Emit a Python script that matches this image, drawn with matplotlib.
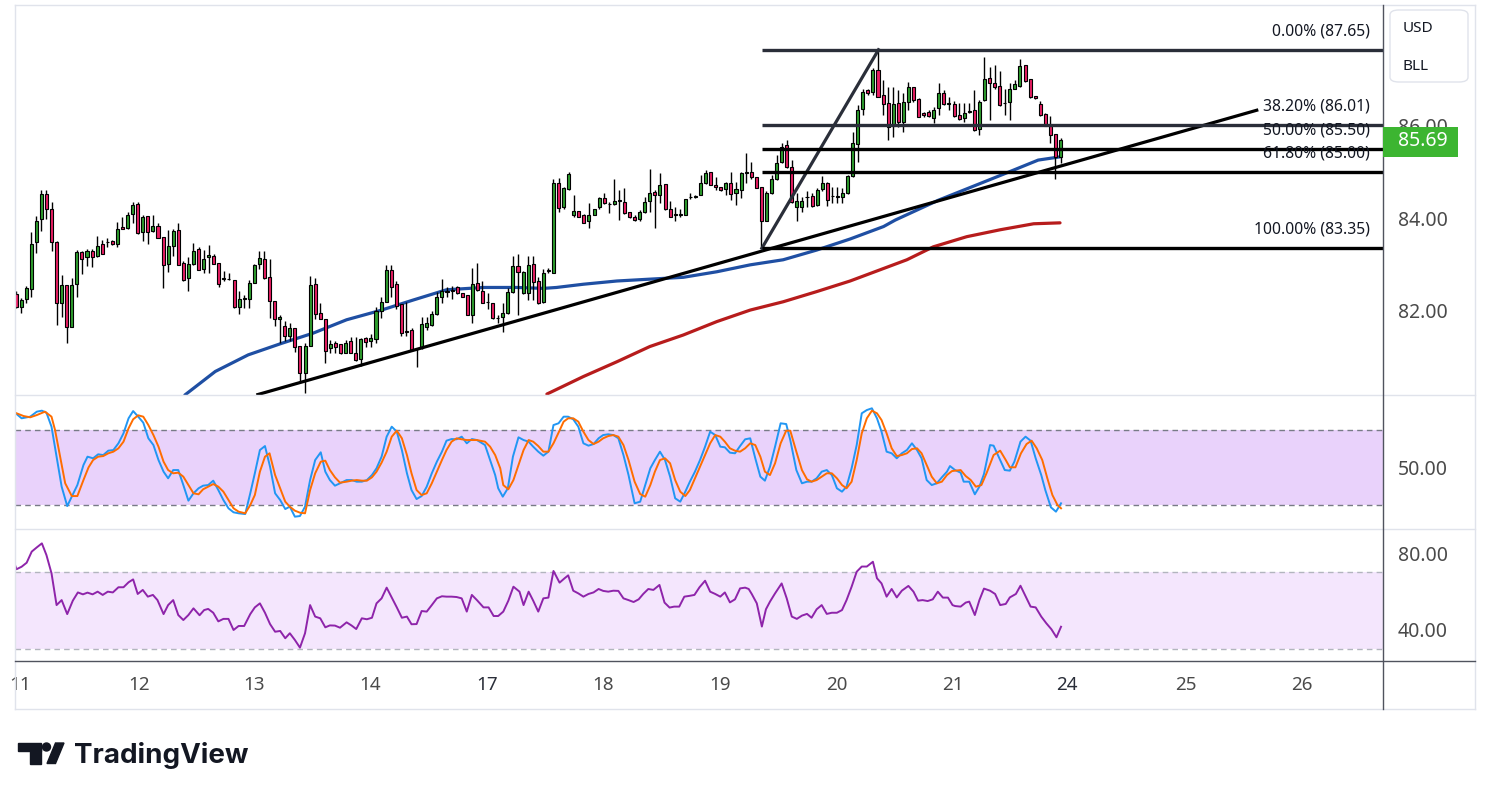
import numpy as np
import matplotlib
matplotlib.use("Agg")
import matplotlib.pyplot as plt
import matplotlib.patches as mpatches
import matplotlib.transforms as mtransforms
from matplotlib.lines import Line2D

plt.rcParams['font.family'] = ['Noto Sans', 'DejaVu Sans']

# ---- hourly candles (bar index 0..206) ----
opens = [
    82.36, 82.07, 82.25, 82.46, 83.48, 83.98, 84.52, 84.19, 83.49, 82.16,
    82.55, 81.65, 82.57, 83.27, 83.15, 83.29, 83.18, 83.44, 83.49, 83.51,
    83.44, 83.81, 83.78, 84.09, 84.30, 83.70, 84.04, 83.73, 83.83, 83.59,
    83.00, 83.39, 83.74, 83.02, 82.70, 83.00, 83.33, 82.91, 83.15, 83.18,
    83.02, 82.69, 82.69, 82.66, 82.08, 82.26, 82.25, 82.60, 83.00, 83.12,
    82.73, 82.21, 81.81, 81.67, 81.44, 81.62, 81.23, 80.65, 81.23, 82.58,
    81.94, 81.81, 81.18, 81.29, 81.27, 81.07, 81.34, 81.07, 80.94, 81.41,
    81.35, 81.39, 81.99, 82.18, 82.88, 82.58, 82.14, 81.56, 81.58, 81.16,
    81.18, 81.65, 81.69, 81.92, 82.30, 82.40, 82.42, 82.52, 82.37, 82.34,
    81.90, 82.59, 82.42, 82.18, 82.17, 81.83, 81.87, 81.94, 82.40, 82.97,
    82.37, 82.37, 83.00, 82.64, 82.18, 82.86, 82.81, 84.77, 84.25, 84.63,
    84.08, 84.16, 84.08, 83.94, 84.08, 84.24, 84.43, 84.30, 84.30, 84.38,
    84.35, 84.14, 84.02, 83.98, 84.13, 84.37, 84.56, 84.50, 84.74, 84.21,
    84.07, 84.07, 84.08, 84.45, 84.46, 84.50, 84.76, 85.01, 84.73, 84.67,
    84.63, 84.77, 84.54, 84.61, 84.99, 85.01, 84.90, 84.67, 83.95, 84.54,
    84.86, 85.22, 85.59, 85.12, 84.25, 84.25, 84.45, 84.48, 84.29, 84.63,
    84.76, 84.48, 84.47, 84.45, 84.54, 84.92, 85.60, 86.36, 86.78, 86.73,
    87.21, 86.67, 86.49, 86.00, 86.50, 86.09, 86.51, 86.84, 86.58, 86.27,
    86.31, 86.18, 86.38, 86.71, 86.48, 86.48, 86.24, 86.18, 86.31, 86.34,
    85.93, 86.56, 87.03, 86.94, 86.86, 86.49, 86.51, 86.81, 86.87, 87.32,
    87.01, 86.65, 86.47, 86.25, 86.00, 85.82, 85.32,
]
highs = [
    82.43, 82.27, 82.53, 83.71, 84.05, 84.61, 84.61, 84.35, 83.51, 82.76,
    82.55, 82.70, 83.31, 83.30, 83.34, 83.34, 83.62, 83.52, 83.58, 83.53,
    83.91, 84.02, 84.13, 84.35, 84.35, 84.08, 84.05, 84.08, 83.90, 83.59,
    83.74, 83.76, 83.90, 83.07, 83.15, 83.46, 83.38, 83.31, 83.41, 83.23,
    83.03, 82.86, 82.81, 82.66, 82.42, 82.33, 82.66, 83.01, 83.29, 83.29,
    83.11, 82.21, 81.90, 81.77, 81.73, 81.62, 81.23, 81.29, 82.75, 82.70,
    82.16, 81.82, 81.36, 81.33, 81.28, 81.36, 81.43, 81.43, 81.41, 81.43,
    81.49, 82.08, 82.30, 82.99, 82.99, 82.64, 82.14, 82.19, 81.62, 81.19,
    81.87, 81.87, 81.99, 82.41, 82.68, 82.52, 82.54, 82.54, 82.38, 82.34,
    82.92, 83.02, 82.63, 82.37, 82.17, 81.90, 82.16, 82.48, 83.18, 83.22,
    82.86, 83.18, 83.18, 82.73, 82.89, 82.92, 84.86, 84.88, 84.68, 85.01,
    84.50, 84.16, 84.09, 84.32, 84.21, 84.47, 84.54, 84.36, 84.86, 84.61,
    84.65, 84.14, 84.07, 84.18, 84.47, 85.06, 84.61, 84.99, 84.74, 84.37,
    84.25, 84.21, 84.41, 84.54, 84.50, 84.94, 85.04, 85.01, 84.90, 84.68,
    84.79, 85.01, 84.79, 85.01, 85.41, 85.22, 84.90, 84.68, 84.58, 84.94,
    85.37, 85.62, 85.70, 85.26, 84.54, 84.47, 84.58, 84.54, 84.65, 84.92,
    84.79, 84.68, 84.68, 84.65, 84.94, 85.86, 86.45, 86.81, 86.81, 87.25,
    87.65, 86.99, 86.85, 86.85, 86.78, 86.71, 86.96, 86.85, 86.60, 86.31,
    86.34, 86.42, 86.94, 86.78, 86.63, 86.53, 86.49, 86.49, 86.49, 86.78,
    86.56, 87.50, 87.28, 87.32, 87.18, 86.81, 86.92, 86.99, 87.44, 87.32,
    87.01, 86.65, 86.54, 86.27, 86.21, 85.82, 85.73,
]
lows = [
    82.06, 81.94, 82.17, 82.30, 83.24, 83.73, 83.98, 83.29, 81.68, 81.85,
    81.29, 81.64, 82.29, 82.80, 82.97, 82.94, 83.15, 83.23, 83.38, 83.42,
    83.38, 83.76, 83.77, 83.90, 83.66, 83.51, 83.44, 83.70, 83.57, 82.48,
    82.83, 83.18, 82.98, 82.64, 82.42, 82.98, 82.88, 82.81, 82.81, 83.00,
    82.50, 82.63, 82.66, 82.06, 81.92, 82.06, 82.05, 82.59, 82.89, 82.68,
    81.83, 81.67, 81.29, 81.33, 81.33, 81.10, 80.46, 80.21, 81.23, 81.82,
    81.81, 80.87, 81.07, 81.09, 81.06, 81.07, 81.07, 80.91, 80.80, 81.22,
    81.22, 81.29, 81.83, 82.18, 82.30, 82.03, 81.44, 81.44, 81.15, 80.78,
    81.17, 81.58, 81.67, 81.90, 82.17, 82.30, 82.25, 82.36, 82.29, 81.90,
    81.74, 82.43, 82.16, 82.03, 81.81, 81.72, 81.54, 81.93, 82.37, 81.90,
    82.36, 82.23, 82.23, 82.14, 82.17, 82.82, 82.81, 84.14, 84.20, 84.61,
    84.03, 84.02, 83.89, 83.78, 84.07, 84.19, 84.31, 84.11, 84.29, 83.96,
    84.09, 84.00, 83.93, 83.93, 84.11, 84.14, 83.78, 84.32, 84.18, 84.02,
    83.93, 84.02, 84.07, 84.41, 84.44, 84.50, 84.74, 84.72, 84.61, 84.58,
    84.50, 84.39, 84.29, 84.43, 84.76, 84.86, 84.65, 83.35, 83.93, 84.53,
    84.83, 85.20, 85.08, 84.32, 83.93, 84.14, 84.25, 84.25, 84.27, 84.58,
    84.27, 84.32, 84.34, 84.32, 84.53, 84.90, 85.22, 86.24, 86.67, 86.67,
    86.63, 86.24, 85.70, 85.77, 85.98, 85.87, 86.34, 86.52, 86.19, 86.20,
    86.20, 86.06, 86.24, 86.45, 86.34, 86.20, 86.13, 86.09, 86.27, 85.90,
    85.80, 86.55, 86.13, 86.81, 86.43, 86.24, 86.13, 86.79, 86.85, 86.96,
    86.60, 86.58, 86.21, 86.00, 85.62, 84.84, 85.20,
]
closes = [
    82.08, 82.23, 82.48, 83.44, 83.93, 84.52, 84.21, 83.48, 82.16, 82.55,
    81.64, 82.55, 83.27, 83.12, 83.29, 83.15, 83.39, 83.23, 83.48, 83.44,
    83.76, 83.76, 84.08, 84.29, 83.69, 84.02, 83.71, 83.83, 83.57, 82.99,
    83.39, 83.72, 82.98, 82.66, 83.00, 83.29, 82.88, 83.11, 83.20, 83.00,
    82.57, 82.69, 82.68, 82.08, 82.25, 82.26, 82.60, 82.98, 83.13, 82.71,
    82.21, 81.81, 81.86, 81.44, 81.62, 81.20, 80.65, 81.23, 82.55, 81.92,
    81.81, 81.13, 81.28, 81.22, 81.09, 81.30, 81.07, 80.93, 81.38, 81.31,
    81.41, 81.99, 82.18, 82.88, 82.52, 82.10, 81.51, 81.53, 81.15, 81.16,
    81.70, 81.72, 81.92, 82.30, 82.42, 82.42, 82.44, 82.37, 82.30, 81.90,
    82.57, 82.44, 82.16, 82.18, 81.83, 81.83, 81.94, 82.40, 82.97, 82.83,
    82.84, 82.99, 82.61, 82.16, 82.81, 82.86, 84.76, 84.23, 84.65, 84.95,
    84.16, 84.03, 83.89, 84.08, 84.19, 84.43, 84.34, 84.30, 84.38, 84.38,
    84.11, 84.02, 83.96, 84.14, 84.35, 84.55, 84.50, 84.72, 84.19, 84.02,
    84.07, 84.07, 84.41, 84.45, 84.47, 84.76, 84.99, 84.73, 84.67, 84.61,
    84.77, 84.52, 84.63, 84.97, 84.99, 84.89, 84.66, 83.95, 84.54, 84.86,
    85.20, 85.55, 85.12, 84.36, 84.37, 84.37, 84.45, 84.27, 84.61, 84.76,
    84.39, 84.48, 84.47, 84.54, 84.92, 85.62, 86.34, 86.73, 86.71, 87.21,
    86.63, 86.47, 85.98, 86.48, 86.09, 86.51, 86.84, 86.56, 86.20, 86.24,
    86.21, 86.34, 86.71, 86.47, 86.48, 86.21, 86.16, 86.29, 86.31, 85.91,
    86.51, 87.01, 86.92, 86.84, 86.45, 86.49, 86.79, 86.90, 87.30, 86.97,
    86.62, 86.60, 86.24, 86.00, 85.80, 85.33, 85.69,
]
last_price = 85.69

# moving averages (bar, price)
ma_blue = [(33.3, 80.17), (39.3, 80.68), (45.8, 81.04), (52.4, 81.29), (58.6, 81.51),
           (65.2, 81.80), (71.8, 82.00), (78.4, 82.23), (84.9, 82.45), (92.2, 82.50),
           (98.8, 82.50), (104.0, 82.48), (106.6, 82.50), (111.9, 82.57), (118.5, 82.64),
           (125.0, 82.68), (131.6, 82.72), (138.2, 82.84), (144.8, 82.99), (151.3, 83.10),
           (157.9, 83.31), (164.5, 83.55), (171.1, 83.82), (173.4, 83.96), (181.9, 84.39),
           (188.5, 84.68), (195.1, 84.97), (201.6, 85.26), (205.9, 85.33)]
ma_red = [(104.7, 80.19), (111.9, 80.57), (118.5, 80.89), (125.0, 81.22), (131.6, 81.47),
          (138.2, 81.76), (144.8, 82.01), (151.3, 82.19), (157.9, 82.41), (164.5, 82.64),
          (175.7, 83.10), (180.9, 83.38), (187.5, 83.60), (194.1, 83.75), (200.7, 83.88),
          (205.9, 83.90)]

# drawings
trend_line = [(47.7, 80.18), (244.7, 86.34)]
fib_swing = [(147.1, 83.35), (170.1, 87.65)]
fib_levels = [87.65, 86.01, 85.50, 85.00, 83.35]
fib_labels = ["0.00% (87.65)", "38.20% (86.01)", "50.00% (85.50)",
              "61.80% (85.00)", "100.00% (83.35)"]
fib_colors = ['#2a2e39', '#2a2e39', 'black', 'black', 'black']

# stochastic %K / %D (bar, value)
stoch_k = [(-0.2, 94.1), (1.1, 89.6), (2.8, 90.9), (4.1, 94.9), (5.1, 95.7), (6.0, 94.1), (7.0, 82.9),
           (8.0, 58.9), (9.0, 34.9), (10.1, 19.4), (11.0, 26.9), (12.1, 36.2), (13.3, 52.2), (14.1, 58.9),
           (15.2, 57.6), (16.2, 60.8), (17.2, 60.2), (18.2, 63.7), (19.2, 64.2), (20.2, 69.6), (21.2, 77.6),
           (22.2, 89.6), (23.1, 95.4), (24.1, 90.9), (25.1, 86.1), (26.1, 73.6), (27.1, 68.2), (28.1, 56.2),
           (29.1, 46.9), (30.0, 41.6), (31.0, 48.2), (32.0, 48.2), (33.0, 36.2), (34.0, 23.7), (35.0, 29.6),
           (36.0, 33.6), (36.9, 35.7), (37.9, 36.2), (38.9, 39.7), (39.9, 32.2), (40.9, 24.2), (41.9, 17.6),
           (42.9, 14.4), (43.9, 13.6), (45.2, 13.0), (46.2, 29.6), (47.1, 45.6), (48.1, 64.2), (49.1, 67.4),
           (50.1, 50.9), (51.1, 29.6), (52.1, 24.2), (53.1, 17.0), (54.0, 18.9), (55.0, 10.9), (56.0, 11.4),
           (57.0, 18.9), (58.0, 40.2), (59.0, 56.2), (60.1, 62.4), (61.0, 46.9), (61.9, 40.2), (62.9, 35.7),
           (63.9, 37.6), (65.2, 40.2), (66.2, 40.2), (67.2, 38.9), (68.2, 38.9), (69.2, 40.2), (70.2, 44.2),
           (71.1, 49.6), (72.1, 58.9), (73.1, 74.9), (74.1, 82.9), (75.1, 78.9), (76.1, 64.2), (77.1, 45.6),
           (78.0, 32.2), (79.0, 25.0), (80.0, 27.4), (81.0, 34.9), (82.0, 45.6), (83.0, 54.9), (84.0, 62.9),
           (84.9, 71.7), (85.9, 73.0), (86.9, 72.8), (87.9, 74.9), (88.9, 69.6), (89.9, 73.0), (90.9, 72.2),
           (92.5, 68.2), (93.5, 56.2), (94.5, 44.2), (95.1, 33.6), (96.0, 26.9), (97.0, 33.6), (98.0, 58.9),
           (99.1, 74.4), (100.1, 72.2), (101.1, 70.9), (102.0, 66.9), (103.0, 62.9), (104.0, 59.7),
           (105.0, 62.9), (106.0, 84.2), (107.0, 85.6), (108.0, 90.9), (108.9, 90.9), (109.9, 88.8),
           (110.9, 82.9), (111.9, 69.6), (112.9, 67.7), (113.9, 69.0), (114.9, 73.6), (115.8, 76.2),
           (116.8, 76.8), (117.8, 76.2), (118.8, 73.6), (119.8, 60.2), (120.8, 44.2), (122.0, 21.6),
           (123.1, 22.9), (124.1, 36.2), (125.1, 49.6), (126.0, 56.2), (127.0, 62.9), (128.0, 56.2),
           (129.0, 42.9), (130.0, 25.6), (131.0, 22.9), (132.0, 30.9), (132.9, 38.9), (133.9, 46.9),
           (134.9, 56.2), (135.9, 66.9), (136.9, 78.9), (137.9, 76.2), (138.9, 66.9), (139.8, 66.4),
           (140.8, 62.1), (141.8, 61.6), (142.8, 67.4), (143.8, 72.8), (144.8, 73.6), (145.8, 57.6),
           (146.8, 42.9), (147.7, 39.7), (148.7, 50.9), (149.7, 66.9), (150.8, 85.6), (151.9, 85.0),
           (152.7, 72.2), (153.9, 48.2), (155.0, 37.6), (156.0, 38.9), (156.9, 38.9), (157.9, 41.6),
           (158.9, 46.9), (159.9, 48.2), (160.9, 44.2), (161.9, 33.6), (162.9, 30.9), (163.8, 34.9),
           (164.8, 49.6), (165.8, 68.2), (166.8, 93.6), (167.8, 96.2), (168.8, 97.6), (169.8, 89.6),
           (170.7, 78.9), (171.7, 62.9), (172.7, 61.6), (173.7, 57.6), (174.7, 61.6), (175.7, 64.2),
           (176.7, 69.6), (177.7, 64.2), (178.6, 57.6), (179.6, 40.2), (180.6, 36.2), (181.6, 37.6),
           (182.6, 42.4), (183.6, 46.9), (184.2, 51.4), (185.2, 48.2), (186.3, 46.1), (186.9, 38.9),
           (188.0, 38.9), (189.1, 28.8), (190.0, 34.9), (190.9, 45.0), (192.1, 68.2), (192.8, 67.7),
           (193.8, 58.9), (195.0, 48.2), (196.0, 47.7), (196.9, 54.9), (198.1, 70.9), (199.1, 74.9),
           (200.1, 71.7), (201.1, 57.6), (202.2, 44.2), (203.0, 32.2), (204.1, 18.4), (205.1, 14.9),
           (206.1, 21.6)]
stoch_d = [(-0.2, 94.1), (1.5, 91.4), (2.8, 90.4), (4.1, 92.2), (5.7, 94.9), (7.0, 90.9), (7.7, 80.2),
           (8.7, 58.9), (9.7, 37.6), (11.0, 27.4), (12.1, 27.4), (13.3, 40.2), (14.3, 50.3), (15.2, 56.2),
           (16.2, 58.9), (17.2, 59.4), (18.2, 61.6), (19.2, 62.9), (20.2, 65.6), (21.2, 70.9), (22.2, 81.6),
           (23.1, 88.8), (24.1, 92.0), (25.1, 90.9), (26.1, 84.2), (27.1, 76.2), (28.1, 66.9), (29.1, 54.9),
           (30.0, 48.2), (31.0, 45.6), (32.0, 46.1), (33.0, 42.9), (34.0, 36.2), (35.0, 29.6), (36.0, 28.8),
           (36.9, 32.8), (37.9, 34.9), (38.9, 37.0), (39.9, 34.9), (40.9, 30.9), (41.9, 24.2), (42.9, 17.6),
           (43.9, 14.9), (45.2, 13.6), (46.2, 20.2), (47.1, 28.2), (48.1, 46.9), (49.1, 58.9), (50.0, 61.6),
           (51.1, 44.2), (52.1, 33.6), (53.1, 22.9), (54.0, 18.9), (55.0, 15.7), (56.0, 14.1), (57.0, 13.6),
           (58.0, 32.2), (59.0, 45.6), (60.1, 54.9), (61.0, 55.7), (61.9, 48.2), (62.9, 42.4), (63.9, 38.1),
           (65.2, 38.9), (66.2, 39.7), (67.2, 40.2), (68.2, 39.7), (69.2, 39.7), (70.2, 42.4), (71.1, 46.9),
           (72.1, 54.1), (73.1, 62.9), (74.1, 74.9), (75.1, 79.7), (76.1, 73.6), (77.1, 60.2), (78.0, 45.6),
           (79.0, 32.2), (80.0, 28.2), (81.0, 29.6), (82.0, 37.6), (83.0, 46.9), (84.0, 56.2), (84.9, 64.2),
           (85.9, 70.9), (86.9, 73.6), (87.9, 72.8), (88.9, 72.2), (89.9, 72.2), (90.9, 72.2), (92.5, 70.9),
           (93.5, 66.9), (94.5, 60.2), (95.5, 49.6), (96.1, 36.2), (97.1, 32.8), (98.1, 40.2), (99.1, 52.2),
           (100.1, 64.2), (101.1, 72.2), (102.0, 70.9), (103.0, 67.4), (104.0, 62.9), (105.0, 62.9),
           (106.0, 69.6), (107.0, 78.1), (108.0, 86.9), (108.9, 89.6), (109.9, 89.6), (110.9, 86.9),
           (111.9, 78.9), (112.9, 72.2), (113.9, 69.0), (114.9, 70.9), (115.8, 73.6), (116.8, 75.4),
           (117.8, 76.2), (118.8, 74.9), (119.8, 68.2), (120.8, 56.2), (122.0, 38.9), (123.1, 29.0),
           (124.1, 26.9), (125.1, 36.2), (126.0, 46.9), (127.0, 56.2), (128.0, 57.6), (129.0, 53.6),
           (130.0, 40.2), (131.0, 30.9), (132.0, 27.4), (132.9, 32.2), (133.9, 41.6), (134.9, 50.9),
           (135.9, 60.2), (136.9, 69.6), (137.9, 76.2), (138.9, 74.9), (139.8, 70.9), (140.8, 65.6),
           (141.8, 63.7), (142.8, 62.9), (143.8, 65.6), (144.8, 69.6), (145.8, 68.2), (146.8, 58.9),
           (147.7, 46.9), (148.7, 44.2), (149.7, 53.6), (150.8, 69.6), (151.9, 79.7), (152.7, 79.7),
           (153.9, 62.9), (155.0, 48.2), (156.0, 40.8), (156.9, 38.9), (157.9, 40.2), (158.9, 42.9),
           (159.9, 45.6), (160.9, 45.6), (161.9, 41.6), (162.9, 36.2), (163.8, 33.6), (164.8, 38.9),
           (165.8, 56.2), (166.8, 77.6), (167.8, 89.6), (168.8, 95.7), (169.8, 93.6), (170.7, 88.2),
           (171.7, 77.6), (172.7, 65.6), (173.7, 59.4), (174.7, 60.2), (175.7, 61.6), (176.7, 65.0),
           (177.7, 65.6), (178.6, 61.6), (179.6, 52.2), (180.6, 42.9), (181.6, 37.6), (182.6, 38.9),
           (183.6, 44.2), (184.6, 47.4), (186.3, 48.2), (187.3, 43.4), (188.3, 40.2), (189.3, 34.9),
           (190.4, 36.2), (191.4, 45.6), (192.8, 60.2), (194.1, 63.7), (195.2, 56.2), (196.0, 50.4),
           (197.1, 50.4), (198.2, 61.6), (199.3, 69.0), (200.3, 71.7), (201.3, 65.6), (202.4, 56.2),
           (203.4, 41.6), (204.4, 28.2), (205.4, 20.2), (206.1, 17.6)]

# RSI (bar, value)
rsi = [(-0.2, 73.8), (0.1, 71.6), (1.1, 72.9), (2.1, 75.0), (3.1, 80.8), (4.1, 83.0), (5.1, 85.1),
       (6.0, 79.0), (7.0, 69.5), (8.0, 52.9), (9.0, 55.5), (10.1, 48.2), (11.2, 55.2), (12.2, 59.5),
       (13.2, 58.5), (14.1, 59.4), (15.1, 58.5), (16.1, 59.9), (17.1, 58.2), (18.1, 59.9), (19.1, 59.5),
       (20.2, 62.2), (21.2, 62.2), (22.2, 64.8), (23.1, 66.3), (24.0, 58.7), (25.0, 60.8), (26.0, 57.3),
       (27.0, 58.2), (27.9, 55.5), (29.1, 48.2), (30.0, 52.9), (31.0, 55.5), (32.0, 47.7), (33.0, 45.1),
       (34.0, 47.7), (35.0, 51.2), (36.2, 47.6), (37.1, 50.3), (37.9, 50.9), (38.9, 48.9), (39.9, 44.4),
       (40.9, 45.7), (41.9, 45.7), (42.9, 39.9), (43.9, 42.0), (45.0, 42.0), (46.2, 48.2), (47.1, 51.7),
       (48.1, 53.8), (49.1, 48.9), (50.1, 43.0), (51.1, 39.0), (52.1, 39.4), (53.1, 35.6), (54.0, 38.2),
       (55.0, 34.7), (56.0, 30.7), (57.0, 38.2), (58.0, 52.9), (59.0, 46.9), (60.0, 46.0), (61.0, 41.3),
       (61.9, 42.3), (62.9, 42.2), (63.9, 41.1), (65.2, 43.9), (66.2, 42.2), (67.1, 40.4), (68.2, 46.0),
       (69.2, 45.5), (70.2, 46.3), (71.1, 53.8), (72.1, 56.4), (73.1, 62.0), (74.1, 56.9), (75.1, 51.7),
       (76.1, 46.3), (77.1, 46.9), (78.0, 42.9), (79.0, 43.0), (80.0, 49.8), (81.0, 49.5), (82.0, 52.9),
       (83.0, 56.4), (84.0, 57.5), (84.9, 57.3), (85.9, 57.3), (86.9, 57.1), (87.9, 56.4), (88.9, 49.5),
       (89.9, 58.2), (90.9, 55.5), (92.2, 51.7), (93.2, 51.7), (94.2, 47.2), (95.1, 47.2), (96.1, 49.5),
       (97.1, 55.2), (98.1, 62.5), (99.3, 59.9), (100.1, 52.9), (101.1, 59.9), (102.0, 55.2), (103.0, 49.5),
       (104.0, 56.4), (105.0, 56.8), (106.0, 70.7), (107.2, 64.6), (108.2, 66.9), (108.9, 68.4),
       (109.9, 60.4), (110.9, 59.0), (111.9, 57.3), (112.9, 58.7), (113.9, 59.5), (114.9, 61.3),
       (115.8, 60.3), (116.8, 59.9), (117.8, 60.4), (118.8, 60.3), (119.8, 56.4), (120.8, 55.5),
       (121.8, 54.5), (122.8, 55.9), (123.7, 58.7), (124.7, 61.3), (125.7, 60.8), (126.9, 63.4),
       (127.9, 54.2), (128.9, 51.6), (129.8, 52.1), (130.8, 52.1), (131.8, 57.3), (132.8, 57.7),
       (133.8, 58.2), (134.8, 62.2), (135.9, 65.6), (136.9, 59.9), (137.9, 58.7), (138.9, 57.3),
       (139.8, 59.5), (140.8, 54.3), (141.8, 55.9), (142.8, 61.6), (143.8, 62.0), (144.5, 61.3),
       (145.1, 58.7), (146.1, 53.8), (147.1, 41.7), (147.9, 50.7), (148.7, 54.7), (149.7, 59.0),
       (151.0, 64.2), (152.0, 56.4), (153.0, 46.9), (154.0, 45.7), (155.0, 47.4), (156.0, 48.3),
       (156.9, 46.3), (157.9, 50.7), (158.9, 52.9), (159.9, 48.3), (160.9, 48.9), (161.9, 48.9),
       (162.9, 50.3), (163.8, 55.5), (164.8, 62.5), (165.8, 70.3), (166.8, 73.0), (167.8, 73.0),
       (169.0, 75.5), (169.8, 66.9), (170.7, 64.2), (171.7, 57.3), (172.7, 61.3), (173.7, 56.9),
       (174.7, 60.4), (176.0, 62.9), (177.0, 59.9), (177.9, 55.2), (178.8, 55.5), (179.8, 55.0),
       (180.8, 55.9), (181.8, 59.9), (182.8, 56.8), (183.8, 56.8), (184.7, 52.9), (185.2, 52.4),
       (186.3, 52.1), (187.3, 54.2), (188.0, 54.7), (189.1, 47.7), (190.0, 55.5), (190.9, 61.5),
       (192.1, 60.4), (193.1, 58.7), (194.1, 52.9), (195.2, 53.5), (196.0, 56.9), (197.2, 58.7),
       (198.1, 63.0), (199.1, 57.6), (200.1, 52.1), (201.1, 51.7), (202.2, 46.9), (203.2, 43.4),
       (204.2, 40.3), (205.2, 36.1), (206.1, 41.6)]

# time axis: first bar of each session
day_pos = [0.8, 24.3, 46.9, 69.8, 92.9, 115.8, 138.9, 161.9, 184.8, 207.3, 230.8, 253.6]
day_labels = ["11", "12", "13", "14", "17", "18", "19", "20", "21", "24", "25", "26"]
week_start = ["17", "24"]

# ---- figure ----
W, H = 1491, 799
fig = plt.figure(figsize=(W / 100, H / 100), dpi=100)
fig.patch.set_facecolor('white')


def px_box(x0, y0, x1, y1):
    return [x0 / W, 1 - y1 / H, (x1 - x0) / W, (y1 - y0) / H]


ax = fig.add_axes(px_box(15, 5, 1383, 395))
ax_st = fig.add_axes(px_box(15, 395, 1383, 529), sharex=ax)
ax_rsi = fig.add_axes(px_box(15, 529, 1383, 661), sharex=ax)

label_color = '#4a4a4a'
for a in (ax, ax_st, ax_rsi):
    for s in a.spines.values():
        s.set_visible(False)
    a.set_facecolor('white')
    a.yaxis.tick_right()
    a.tick_params(axis='y', length=0, pad=10.5, labelsize=14, labelcolor=label_color)
    a.tick_params(axis='x', length=0, labelbottom=False)

ax.set_xlim(-0.2, 269.6)
ax.set_ylim(80.17, 88.62)
ax_st.set_ylim(1.04, 108.24)
ax_rsi.set_ylim(23.73, 92.59)

# candles
o = np.array(opens)
h = np.array(highs)
l = np.array(lows)
c = np.array(closes)
x = np.arange(len(c))
cols = np.where(c >= o, '#2e9e2e', '#e91e63')
ax.vlines(x, l, h, color='black', lw=1, zorder=3)
ax.bar(x, np.maximum(np.abs(c - o), 0.012), bottom=np.minimum(o, c), width=0.6,
       color=cols, edgecolor='black', linewidth=0.8, zorder=4)

# moving averages
bx, by = zip(*ma_blue)
ax.plot(bx, by, color='#1f4fa3', lw=2.3, zorder=2.5, solid_capstyle='round')
rx, ry = zip(*ma_red)
ax.plot(rx, ry, color='#b71c1c', lw=2.3, zorder=2.5, solid_capstyle='round')

# trend line + fibonacci
tx, ty = zip(*trend_line)
ax.plot(tx, ty, color='black', lw=2.3, zorder=5)
fx, fy = zip(*fib_swing)
ax.plot(fx, fy, color='#2a2e39', lw=2.3, zorder=5)
right = ax.get_xlim()[1]
trans = mtransforms.blended_transform_factory(ax.transAxes, ax.transData)
for lvl, lab, col in zip(fib_levels, fib_labels, fib_colors):
    ax.hlines(lvl, fib_swing[0][0], right, color=col, lw=2.4, zorder=5)
    ax.annotate(lab, xy=(0.9905, lvl), xycoords=trans, xytext=(0, 13.5),
                textcoords='offset points', ha='right', va='center',
                fontsize=11.3, color='#131722', zorder=6)

ax.set_yticks([82, 84, 86])
ax.set_yticklabels(["82.00", "84.00", "86.00"])

# stochastic
ax_st.axhspan(20, 80, color='#e9d2fb', lw=0, zorder=1)
ax_st.axhline(80, color='#787b86', lw=1, ls=(0, (4, 3)), zorder=2)
ax_st.axhline(20, color='#787b86', lw=1, ls=(0, (4, 3)), zorder=2)
kx, ky = zip(*stoch_k)
ax_st.plot(kx, ky, color='#2196f3', lw=1.4, zorder=3)
dx, dy = zip(*stoch_d)
ax_st.plot(dx, dy, color='#ff6d00', lw=1.4, zorder=4)
ax_st.set_yticks([50])
ax_st.set_yticklabels(["50.00"])

# RSI
ax_rsi.axhspan(30, 70, color='#f4e6fd', lw=0, zorder=1)
ax_rsi.axhline(70, color='#b2b5be', lw=1, ls=(0, (4, 3)), zorder=2)
ax_rsi.axhline(30, color='#b2b5be', lw=1, ls=(0, (4, 3)), zorder=2)
qx, qy = zip(*rsi)
ax_rsi.plot(qx, qy, color='#8e24aa', lw=1.4, zorder=3)
ax_rsi.set_yticks([40, 80])
ax_rsi.set_yticklabels(["40.00", "80.00"])

# time axis
ax_rsi.set_xticks(day_pos)
ax_rsi.set_xticklabels(day_labels)
ax_rsi.tick_params(axis='x', labelbottom=True, length=0, pad=11, labelsize=13.5,
                   labelcolor=label_color)
for t in ax_rsi.get_xticklabels():
    if t.get_text() in week_start:
        t.set_fontweight('bold')
        t.set_color('#2a2e39')


# ---- frame lines ----
def fig_line(x0, y0, x1, y1, color, lw=1.0):
    fig.add_artist(Line2D([x0 / W, x1 / W], [1 - y0 / H, 1 - y1 / H],
                          transform=fig.transFigure, color=color, lw=lw))


light = '#e0e3eb'
fig_line(15, 5, 1475, 5, light)
fig_line(15, 709, 1475, 709, light)
fig_line(15, 5, 15, 709, light)
fig_line(1475, 5, 1475, 709, light)
fig_line(15, 395, 1475, 395, light)
fig_line(15, 529, 1475, 529, light)
fig_line(1383, 5, 1383, 709, '#50535e')
fig_line(15, 661, 1475, 661, '#50535e')

# last price tag
fig.add_artist(mpatches.Rectangle((1383 / W, 1 - 156.5 / H), 75 / W, 30 / H,
                                  transform=fig.transFigure, facecolor='#3cb531',
                                  edgecolor='none', zorder=10))
fig.text(1423 / W, 1 - 141.5 / H, f"{last_price:.2f}", color='white', fontsize=14,
         ha='center', va='center', zorder=11)

# currency / unit box
fig.add_artist(mpatches.FancyBboxPatch((1390 / W, 1 - 82 / H), 78 / W, 72 / H,
                                       boxstyle="round,pad=0,rounding_size=0.006",
                                       transform=fig.transFigure, facecolor='white',
                                       edgecolor=light, lw=1, zorder=10))
fig.text(1403 / W, 1 - 29 / H, "USD", fontsize=11, color='#131722', va='center', zorder=11)
fig.text(1403 / W, 1 - 66 / H, "BLL", fontsize=11, color='#131722', va='center', zorder=11)

# TradingView logo
logo = '#131722'
fig.add_artist(mpatches.Rectangle((18 / W, 1 - 751 / H), 23 / W, 8 / H,
                                  transform=fig.transFigure, color=logo))
fig.add_artist(mpatches.Rectangle((30 / W, 1 - 763.5 / H), 11 / W, 20 / H,
                                  transform=fig.transFigure, color=logo))
fig.add_artist(mpatches.Ellipse((46.5 / W, 1 - 747 / H), 8 / W, 8 / H,
                                transform=fig.transFigure, color=logo))
fig.add_artist(mpatches.Polygon([(47 / W, 1 - 763.5 / H), (55.5 / W, 1 - 763.5 / H),
                                 (64 / W, 1 - 743 / H), (55.5 / W, 1 - 743 / H)],
                                closed=True, transform=fig.transFigure, color=logo))
fig.text(74 / W, 1 - 763 / H, "TradingView", fontsize=20, fontweight='bold',
         family=['Inter', 'DejaVu Sans'], color=logo, va='baseline', ha='left')

fig.savefig("out.png", dpi=100, facecolor='white')
